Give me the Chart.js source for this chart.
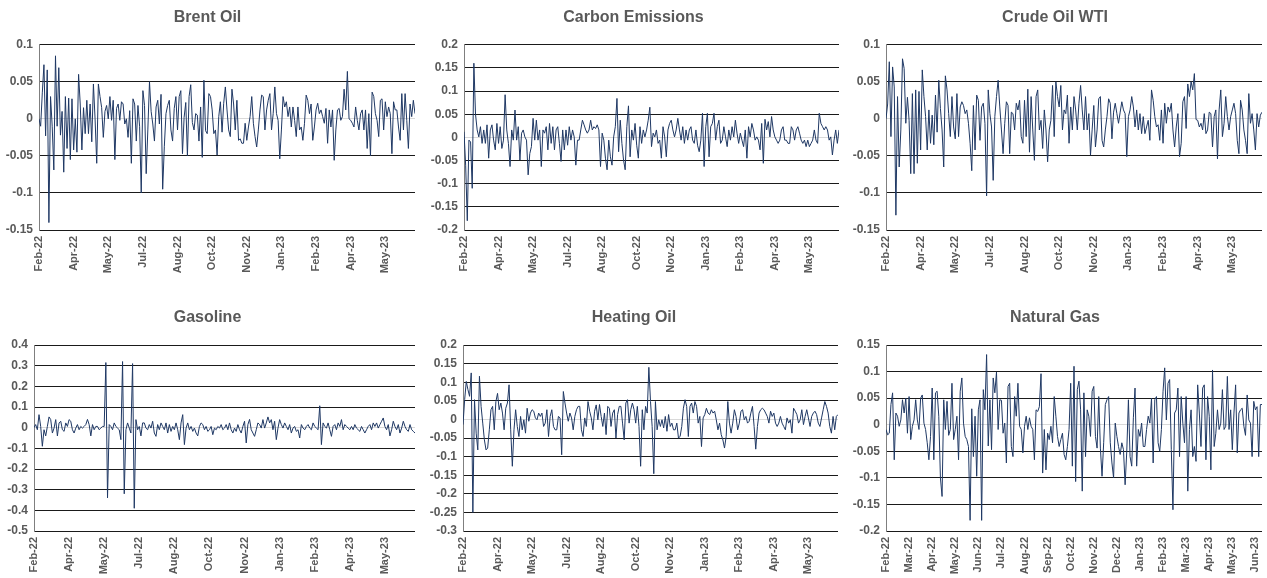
<!DOCTYPE html>
<html>
<head>
<meta charset="utf-8">
<title>Daily returns</title>
<script src="https://cdn.jsdelivr.net/npm/chart.js@4.4.1/dist/chart.umd.min.js"></script>
<style>
    html, body { margin: 0; padding: 0; background: #fff; overflow: hidden; }
    body { width: 1267px; height: 578px; position: relative; }
    canvas { position: absolute; }
</style>
</head>
<body>
<canvas id="brentChart"></canvas>
<canvas id="carbonChart"></canvas>
<canvas id="wtiChart"></canvas>
<canvas id="gasolineChart"></canvas>
<canvas id="heatingChart"></canvas>
<canvas id="natgasChart"></canvas>
<script>
// Tick labels of the date axes
const tickLabels = ['Feb-22', 'Apr-22', 'May-22', 'Jul-22', 'Aug-22', 'Oct-22', 'Nov-22', 'Jan-23', 'Feb-23', 'Apr-23', 'May-23'];
const natGasTickLabels = ['Feb-22', 'Mar-22', 'Apr-22', 'May-22', 'Jun-22', 'Jul-22', 'Aug-22', 'Sep-22', 'Oct-22', 'Nov-22', 'Dec-22', 'Jan-23', 'Feb-23', 'Mar-23', 'Apr-23', 'May-23', 'Jun-23'];
const POINTS = 229;

// Daily returns
const brentOil = [
    0, -.01, .035, .073, -.023, .066, -.14, .03, -.01, -.069,
    .085, -.01, .069, -.022, .01, -.072, .03, -.04, .028, -.055,
    .027, -.042, 0, -.045, .06, .02, -.042, .015, -.02, .025,
    -.02, .02, -.031, .047, 0, -.06, .047, .03, .015, -.025,
    .01, .018, 0, .03, -.002, .025, -.055, .014, .02, -.002,
    .023, .02, -.007, 0, -.025, .011, -.06, .027, .02, -.03,
    .018, -.01, -.1, .038, .018, -.074, -.015, .05, .01, -.007,
    -.03, .016, .025, -.007, .033, -.095, -.037, .007, .018, .025,
    -.015, -.03, .014, .03, -.015, .03, .038, -.047, .002, .022,
    -.05, .03, .046, -.005, -.015, .007, .005, -.03, .016, -.052,
    .052, -.016, -.02, .034, .03, .012, -.02, -.015, -.049, .003,
    .023, -.018, .021, .043, .012, -.015, -.024, .04, .02, -.015,
    .025, -.029, -.027, -.033, -.033, -.006, -.029, -.011, .003, .03,
    -.006, -.024, -.038, -.015, .012, .032, .03, -.015, .012, .025,
    .034, -.015, .007, .043, .007, -.002, -.054, -.015, .03, .016,
    .023, .003, .016, -.011, .016, -.002, -.024, .016, -.015, -.011,
    -.029, -.006, .032, .025, .007, .02, -.029, -.011, .012, .021,
    .007, .012, .003, -.006, .014, -.033, .012, -.011, .012, -.056,
    -.015, .012, .014, -.002, .003, .04, .012, .064, 0, -.002,
    -.006, -.011, .016, -.002, -.015, .007, .012, -.015, .012, -.04,
    .007, -.05, .036, .03, .007, -.002, -.024, .025, .027, -.015,
    .023, .003, .016, .007, -.047, .023, .012, .012, -.011, -.029,
    .034, -.015, .034, -.002, -.04, .02, .003, .025, .007
];
const carbonEmissions = [
    .012, -.06, -.18, -.006, -.01, -.11, .16, .05, .016, .001,
    .023, -.013, .016, -.013, .027, -.045, .016, .027, -.006, -.027,
    .03, -.013, .023, -.024, -.006, .092, .016, -.013, -.063, .016,
    -.006, .059, -.006, .023, -.049, .009, .016, .001, -.006, -.081,
    -.035, -.02, .041, -.006, .037, -.006, .016, -.063, .016, .009,
    .023, -.027, .03, -.013, .023, -.027, .016, .023, -.013, -.052,
    .016, -.027, .016, -.017, .023, -.006, .016, .001, -.06, -.006,
    -.006, .016, .037, .027, .016, .009, .016, .037, .016, .023,
    .019, .027, .016, -.063, .009, -.006, -.045, -.07, -.006, -.042,
    -.06, .001, .023, .084, -.031, .037, -.013, -.049, -.07, .023,
    .068, -.042, .016, -.006, .03, -.017, -.045, .023, -.013, .016,
    .001, .016, .037, .065, -.02, .009, .001, .016, -.013, -.006,
    -.045, .023, .001, -.042, .016, .03, .037, .016, .001, .016,
    .041, .016, -.006, .023, -.013, .016, -.006, .016, .023, -.006,
    -.013, .016, -.017, -.031, -.006, .052, -.063, .023, .052, -.042,
    .023, .03, .052, -.006, .023, .037, -.013, -.006, .023, .001,
    -.02, .016, -.006, .023, .001, .037, .009, -.013, .009, -.006,
    -.02, .016, -.045, .023, .001, .03, .016, -.006, .001, -.006,
    -.027, .03, -.056, .039, .016, .034, .001, .045, .016, .001,
    -.006, -.013, -.006, .016, .023, -.006, -.006, -.013, -.013, .023,
    .016, -.006, .016, .023, .009, -.006, -.013, -.006, -.02, -.006,
    -.02, -.013, -.006, .016, -.006, -.013, .052, .03, .023, .016,
    .023, .016, -.006, .001, -.038, -.006, .016, -.013, .016
];
const crudeOilWti = [
    0, .02, .077, -.024, .07, .043, -.13, .03, -.065, -.015,
    .081, .068, -.006, .029, -.002, -.074, .034, -.074, .039, -.06,
    .037, -.042, .066, .03, .003, -.042, .012, -.033, .005, -.035,
    .032, -.018, .052, .014, -.015, -.065, .058, .039, .007, -.024,
    .03, -.011, -.027, .034, -.024, .016, .023, .018, .007, .012,
    -.006, -.033, -.07, .018, -.042, .032, .025, -.029, .016, .021,
    -.006, -.104, .039, .007, -.011, -.083, .003, .03, .052, .016,
    -.015, -.047, -.006, .023, .018, -.047, .009, .007, -.015, .021,
    .012, .025, -.024, -.033, .025, -.024, .04, -.045, .03, -.015,
    -.056, .03, .039, -.015, -.002, -.04, .012, -.015, -.058, -.015,
    -.002, .045, -.024, .05, .03, .016, .045, -.015, .012, .007,
    .032, -.033, .016, -.015, .03, .012, -.015, .021, .045, .012,
    -.015, .03, -.015, .007, -.049, -.015, .018, -.038, -.015, .027,
    .03, -.029, -.038, -.015, .003, .027, .021, -.027, .009, .021,
    .007, -.006, .009, .023, .012, .007, -.051, .003, .012, .03,
    .016, -.011, .012, -.015, .007, -.02, .003, -.02, -.011, -.002,
    -.029, .039, .025, .003, -.011, -.008, -.029, .012, -.033, .021,
    -.006, .016, .009, .021, -.015, -.038, -.011, .007, -.051, -.033,
    .023, .03, -.013, .047, .03, .05, .039, .061, -.001, -.002,
    -.011, -.006, -.015, .007, -.02, -.015, .009, .007, -.038, .003,
    .012, -.054, .012, .039, -.024, -.006, .03, .003, -.015, .003,
    .012, .021, .007, -.029, -.047, .025, .012, -.015, -.029, -.047,
    .034, -.006, .007, -.015, -.042, .007, -.011, .005, .009
];
const gasoline = [
    0, .015, -.01, .063, .006, -.09, -.01, -.04, .006, .052,
    .039, -.026, -.002, .039, -.04, .023, .031, -.01, -.018, .023,
    .006, .039, .031, -.01, -.026, -.002, .015, -.01, .006, -.002,
    .006, .015, .04, .015, -.04, .015, -.01, .006, .006, -.01,
    -.002, .006, .006, .315, -.34, .015, .006, -.01, .023, .006,
    -.002, -.01, -.058, .32, -.32, -.01, .023, -.002, -.026, .31,
    -.39, .039, -.01, .006, -.04, .023, .023, -.002, -.01, .015,
    -.002, .031, -.026, -.042, .015, -.01, .023, .006, -.01, .023,
    -.026, .015, -.018, .006, -.01, .023, -.01, -.058, .023, .063,
    -.082, -.002, .023, -.01, .006, -.018, -.002, -.026, -.04, .006,
    .023, .015, -.01, .006, -.018, -.01, .006, -.034, -.002, -.01,
    .006, -.002, .015, -.01, -.002, .015, -.01, .023, -.01, -.026,
    -.002, -.018, .015, -.01, -.026, .006, .031, -.074, .015, .04,
    -.01, -.026, -.042, -.01, .023, .015, -.002, .039, -.002, .023,
    .052, .023, .039, -.01, .031, -.058, -.002, .039, .015, -.002,
    .023, .006, -.01, .015, -.026, -.002, .006, -.018, -.01, -.05,
    .015, -.002, -.01, .006, .015, -.002, -.01, .023, .006, -.002,
    -.01, .106, -.082, .023, .006, -.002, .023, -.01, -.042, .006,
    .015, -.01, .023, .006, .039, -.01, .015, .006, -.002, -.01,
    .006, -.01, .015, -.002, -.01, -.018, .006, -.01, -.026, -.01,
    .006, .015, -.01, .023, .006, .023, -.002, .015, .031, .047,
    .006, -.01, .015, -.04, -.01, .031, .006, -.01, .015, -.026,
    -.002, .031, .006, -.01, -.018, .015, -.01, -.018, -.026
];
const heatingOil = [
    -.014, .053, .102, .08, .062, .125, -.25, .053, -.037, -.082,
    .116, .035, -.01, -.055, -.082, -.077, -.028, .026, .035, -.028,
    .048, .07, .026, .044, .017, -.028, .03, .044, .093, -.028,
    -.126, -.028, .026, -.019, -.046, .008, -.028, -.001, -.037, .03,
    -.005, .017, .026, .022, .004, -.001, .017, .008, .017, -.019,
    -.01, .026, -.046, .008, .026, -.019, -.028, -.028, .008, .004,
    -.095, .075, .044, .017, -.005, .017, .004, -.028, .008, .026,
    .035, .035, -.028, -.046, .004, -.019, .048, .022, .004, -.028,
    .022, .039, -.001, .04, .008, -.019, .017, -.041, .035, .03,
    -.019, .017, .026, -.05, .013, .035, .035, -.01, -.055, .044,
    .053, -.01, .026, .044, .026, -.01, .035, -.019, -.126, .026,
    -.028, .035, .017, .14, .048, -.019, -.146, .048, -.028, -.001,
    -.019, -.001, -.023, .008, -.032, .013, -.019, -.01, -.028, -.028,
    -.01, -.05, -.046, -.019, .03, .053, .035, -.046, .035, .044,
    .017, .048, .035, -.01, .008, -.073, .004, .013, .03, .017,
    .013, .026, .017, .022, -.001, -.028, -.01, -.041, -.055, -.077,
    -.046, .048, -.01, -.037, -.01, .026, .008, -.028, -.01, .022,
    .026, -.001, .008, -.01, -.005, .017, .035, -.019, -.08, -.019,
    .017, .026, .03, .026, .017, .008, -.01, .022, .008, .017,
    -.01, -.019, -.01, .008, -.01, -.019, -.028, .004, -.01, -.001,
    -.037, .03, .022, .013, -.01, -.001, .026, -.014, .008, .026,
    .004, -.019, .008, .017, .022, .013, -.01, -.019, .004, .026,
    .048, .035, .017, -.019, -.037, .008, -.028, .008, .013
];
const naturalGas = [
    -.009, -.019, -.016, .038, .06, -.066, .022, .016, -.003, .009,
    .047, .022, .05, -.016, .053, -.028, -.003, .009, .047, .009,
    -.009, .05, .056, .003, -.009, -.034, -.066, -.022, .069, -.066,
    .06, .063, .016, -.1, -.135, .047, -.009, .044, -.02, -.009,
    .078, -.028, -.009, .016, -.066, .063, .088, .003, -.022, -.028,
    -.041, -.18, .03, -.06, .016, -.097, .028, .047, -.18, .066,
    .028, .132, -.04, .047, -.047, .088, .06, .099, -.009, .047,
    .046, -.016, .003, -.072, .072, .078, -.041, -.06, .053, .016,
    .078, -.003, -.009, -.053, -.003, .016, -.009, .013, -.003, -.009,
    -.066, .028, .025, .034, .096, -.091, -.009, -.085, -.016, -.028,
    -.003, -.034, .053, .016, -.022, -.041, -.028, -.016, -.056, -.066,
    -.041, -.009, .078, -.078, .11, -.107, .066, .082, .028, -.125,
    .06, -.06, .028, .016, -.022, .063, .072, -.022, -.044, .053,
    -.044, -.097, -.034, .038, .047, .053, -.034, -.072, -.1, .003,
    -.022, -.041, -.056, -.034, -.047, -.113, -.05, .047, -.06, -.078,
    .013, .069, -.078, -.009, -.022, .003, -.041, -.041, -.009, .016,
    .003, .05, -.072, .047, .053, -.034, -.05, -.009, .063, .107,
    .009, .078, .085, -.047, -.16, .022, .028, .069, -.06, .053,
    .003, -.034, .053, -.125, -.009, .028, -.06, -.041, -.069, .075,
    .022, -.041, .069, .075, -.066, .053, .016, -.085, .103, -.041,
    -.016, .028, -.009, .003, .066, -.009, -.003, .091, -.009, .028,
    -.047, .022, .075, -.053, .022, .028, .031, -.003, -.02, .056,
    .009, .003, -.06, .044, .028, .034, -.06, .038, .038
];

const FONT = "'Liberation Sans', Arial, sans-serif";
const TEXT_GREY = '#595959';

// Build one panel
function renderPanel(p) {
    const canvas = document.getElementById(p.id);
    canvas.width = p.box.w;
    canvas.height = p.box.h;
    canvas.style.left = p.box.x + 'px';
    canvas.style.top = p.box.y + 'px';

    new Chart(canvas.getContext('2d'), {
        type: 'line',
        data: {
            datasets: [{
                data: p.values.map((v, i) => ({ x: i, y: v })),
                borderColor: '#1f3864',
                borderWidth: 1,
                pointRadius: 0,
                tension: 0,
                fill: false
            }]
        },
        options: getPanelOptions(p)
    });
}

// Helper: options shared by all panels
function getPanelOptions(p) {
    return {
        responsive: false,
        animation: false,
        layout: { padding: { left: 0, right: p.padRight, top: 0, bottom: 0 } },
        plugins: {
            legend: { display: false },
            tooltip: { enabled: false },
            title: {
                display: true,
                text: p.title,
                color: TEXT_GREY,
                font: { family: FONT, size: 16, weight: 'bold' },
                padding: { top: p.titleTop, bottom: p.titleBottom }
            }
        },
        scales: {
            x: {
                type: 'linear',
                min: 0,
                max: POINTS - 1,
                afterFit: s => { s.height = p.xHeight; },
                grid: { display: false, drawTicks: false },
                border: { display: false },
                ticks: {
                    stepSize: p.tickStep,
                    includeBounds: false,
                    autoSkip: false,
                    minRotation: 90,
                    maxRotation: 90,
                    padding: 6,
                    color: TEXT_GREY,
                    font: { family: FONT, size: 11, weight: 'bold' },
                    callback: v => p.labels[Math.round(v / p.tickStep)] || ''
                }
            },
            y: {
                min: p.yMin,
                max: p.yMax,
                afterFit: s => { s.width = p.yWidth; },
                grid: {
                    drawTicks: false,
                    color: ctx => Math.abs(ctx.tick.value) < 1e-9 ? '#d9d9d9' : '#1a1a1a',
                    lineWidth: 1
                },
                border: { display: true, color: '#7f7f7f', width: 1 },
                ticks: {
                    stepSize: p.yStep,
                    padding: 6,
                    color: TEXT_GREY,
                    font: { family: FONT, size: 12, weight: 'bold' },
                    callback: v => String(Math.round(v * 100) / 100)
                }
            }
        }
    };
}

// Initialisation
document.addEventListener('DOMContentLoaded', function() {
    const top = { titleTop: 7.5, titleBottom: 18, xHeight: 60 };
    const bottom = { titleTop: 8.4, titleBottom: 17.4, xHeight: 47 };

    renderPanel({ id: 'brentChart', title: 'Brent Oil', values: brentOil, ...top,
        box: { x: 0, y: 0, w: 424, h: 290 }, yWidth: 39, padRight: 9,
        yMin: -0.15, yMax: 0.1, yStep: 0.05, labels: tickLabels, tickStep: 21 });
    renderPanel({ id: 'carbonChart', title: 'Carbon Emissions', values: carbonEmissions, ...top,
        box: { x: 428, y: 0, w: 416, h: 290 }, yWidth: 36, padRight: 5,
        yMin: -0.2, yMax: 0.2, yStep: 0.05, labels: tickLabels, tickStep: 21 });
    renderPanel({ id: 'wtiChart', title: 'Crude Oil WTI', values: crudeOilWti, ...top,
        box: { x: 848, y: 0, w: 418, h: 290 }, yWidth: 38, padRight: 4,
        yMin: -0.15, yMax: 0.1, yStep: 0.05, labels: tickLabels, tickStep: 21 });
    renderPanel({ id: 'gasolineChart', title: 'Gasoline', values: gasoline, ...bottom,
        box: { x: 0, y: 300, w: 428, h: 278 }, yWidth: 34, padRight: 13,
        yMin: -0.5, yMax: 0.4, yStep: 0.1, labels: tickLabels, tickStep: 21 });
    renderPanel({ id: 'heatingChart', title: 'Heating Oil', values: heatingOil, ...bottom,
        box: { x: 430, y: 300, w: 434, h: 278 }, yWidth: 33, padRight: 26,
        yMin: -0.3, yMax: 0.2, yStep: 0.05, labels: tickLabels, tickStep: 21 });
    renderPanel({ id: 'natgasChart', title: 'Natural Gas', values: naturalGas, ...bottom,
        box: { x: 848, y: 300, w: 440, h: 278 }, yWidth: 38, padRight: 26,
        yMin: -0.2, yMax: 0.15, yStep: 0.05, labels: natGasTickLabels, tickStep: 14 });
});
</script>
</body>
</html>
